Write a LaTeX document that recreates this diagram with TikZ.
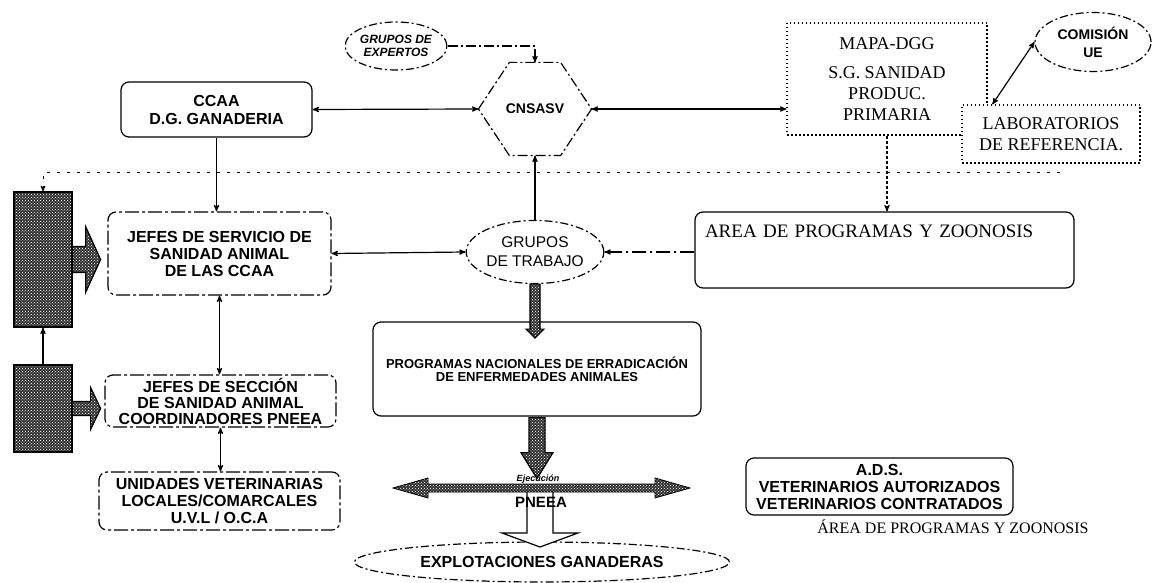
\documentclass[tikz,border=0pt]{standalone}
\usepackage{fontspec}
\setmainfont{Liberation Sans}
\newfontfamily\timesfont{Liberation Serif}
\usetikzlibrary{arrows,shapes.geometric,patterns,calc}

\begin{document}
\begin{tikzpicture}[x=1pt,y=-1pt,>=stealth',line width=1.2pt,
  box node/.style={draw,rounded corners=8pt,fill=white,align=center,inner sep=0pt,
    font=\fontsize{16}{17}\selectfont\bfseries},
  dash box/.style={box node,dash pattern=on 14pt off 3pt on 3pt off 3pt},
  dot box/.style={draw,fill=white,align=center,inner sep=0pt,dash pattern=on 1.5pt off 2.5pt,
    font=\timesfont\fontsize{18}{21}\selectfont},
  oval node/.style={draw,ellipse,fill=white,inner sep=0pt,align=center,
    dash pattern=on 8pt off 3pt on 2pt off 3pt},
  spk/.style={draw,preaction={fill=black!80},pattern=crosshatch dots,pattern color=white},
  sep line/.style={line width=1pt,dash pattern=on 3pt off 7pt}]
  \useasboundingbox (0,0) rectangle (1152,583);

  % top row
  \node[oval node,minimum width=86,minimum height=48,
    font=\fontsize{12}{13}\selectfont\bfseries\itshape] (expertos) at (396,46) {GRUPOS DE\\EXPERTOS};
  \node[box node,minimum width=191,minimum height=55,font=\fontsize{16}{18}\selectfont\bfseries]
    (ccaa) at (216.5,109.5) {CCAA\\D.G. GANADERIA};
  \node[inner sep=0pt,minimum width=112,minimum height=92,font=\fontsize{14}{14}\selectfont\bfseries]
    (cnsasv) at (535,109) {CNSASV};
  \draw[dash pattern=on 10pt off 3pt on 2pt off 3pt] (cnsasv.west) -- ([xshift=31pt]cnsasv.north west)
    -- ([xshift=-31pt]cnsasv.north east) -- (cnsasv.east) -- ([xshift=-31pt]cnsasv.south east)
    -- ([xshift=31pt]cnsasv.south west) -- cycle;
  \node[dot box,minimum width=200,minimum height=112] (mapa) at (887,79)
    {MAPA-DGG\\[8pt]S.G. SANIDAD\\PRODUC.\\PRIMARIA};
  \node[dot box,minimum width=178,minimum height=58] (lab) at (1051,134)
    {LABORATORIOS\\DE REFERENCIA.};
  \node[oval node,minimum width=116,minimum height=59,font=\fontsize{14}{18}\selectfont\bfseries]
    (comision) at (1093,42) {COMISIÓN\\UE};

  % middle row
  \node[spk,minimum width=58,minimum height=135,inner sep=0pt] (spk1) at (43,259.5) {};
  \node[spk,minimum width=58,minimum height=87,inner sep=0pt] (spk2) at (43,408.5) {};
  \node[dash box,minimum width=223,minimum height=83] (jefes) at (219.5,253.5)
    {JEFES DE SERVICIO DE\\SANIDAD ANIMAL\\DE LAS CCAA};
  \node[oval node,minimum width=125,minimum height=63,font=\fontsize{15.5}{19}\selectfont]
    (grupos) at (535,252) {GRUPOS\\DE TRABAJO};
  \node[box node,minimum width=379,text width=359,align=left,inner xsep=10pt,inner ysep=12pt,
    text height=13pt,text depth=39pt,font=\timesfont\fontsize{19}{19}\selectfont]
    (area) at (884.5,250) {AREA DE PROGRAMAS Y ZOONOSIS};

  % lower part
  \node[box node,minimum width=328,minimum height=94,font=\fontsize{13}{13}\selectfont\bfseries]
    (programas) at (537,369) {PROGRAMAS NACIONALES DE ERRADICACIÓN\\DE ENFERMEDADES ANIMALES};
  \node[dash box,minimum width=231,minimum height=52,font=\fontsize{16}{16}\selectfont\bfseries]
    (seccion) at (220.5,401) {JEFES DE SECCIÓN\\DE SANIDAD ANIMAL\\COORDINADORES PNEEA};
  \node[dash box,minimum width=241,minimum height=58] (unidades) at (219.5,501)
    {UNIDADES VETERINARIAS\\LOCALES/COMARCALES\\U.V.L / O.C.A};
  \node[box node,minimum width=267,minimum height=57] (ads) at (879.5,486.5)
    {A.D.S.\\VETERINARIOS AUTORIZADOS\\VETERINARIOS CONTRATADOS};
  \node[font=\timesfont\fontsize{16}{16}\selectfont] (areatxt) at (953,527)
    {ÁREA DE PROGRAMAS Y ZOONOSIS};
  \node[oval node,minimum width=375,minimum height=40,font=\fontsize{16}{16}\selectfont\bfseries]
    (explot) at (542,562) {EXPLOTACIONES GANADERAS};

  % fat arrows
  \path[spk] ($(spk1.east)+(0,-13)$) -- ++(13,0) -- ++(0,-20) -- ++(15,33) -- ++(-15,33)
    -- ++(0,-20) -- ++(-13,0) -- cycle;
  \path[spk] ($(spk2.east)+(0,-7)$) -- ++(18,0) -- ++(0,-14) -- ++(10,21) -- ++(-10,21)
    -- ++(0,-14) -- ++(-18,0) -- cycle;
  \path[spk] ($(grupos.south)+(-5,0)$) -- ++(10,0) -- ++(0,45) -- ++(4,0) -- ++(-9,9)
    -- ++(-9,-9) -- ++(4,0) -- cycle;
  \path[spk] ($(programas.south)+(-8,1)$) -- ++(16,0) -- ++(0,35) -- ++(8,0) -- ++(-16,26)
    -- ++(-16,-26) -- ++(8,0) -- cycle;
  \coordinate (ejl) at (393,488);
  \coordinate (ejr) at (690,488);
  \coordinate (ejbot) at (540,492);
  \draw[fill=white] ($(ejbot)+(-13,0)$) -- ++(0,41) -- ++(-25,0) -- ++(38,14) -- ++(38,-14)
    -- ++(-25,0) -- ++(0,-41);
  \path[spk,line width=0.8pt] (ejl) -- ++(35,-10) -- ++(0,6) -- ($(ejr)+(-35,-4)$) -- ++(0,-6)
    -- (ejr) -- ++(-35,10) -- ++(0,-6) -- ($(ejl)+(35,4)$) -- ++(0,6) -- cycle;
  \node[font=\fontsize{9}{9}\selectfont\bfseries\itshape] (ejec) at (538,479) {Ejecución};
  \node[font=\fontsize{15}{15}\selectfont\bfseries] (pneea) at (541,502) {PNEEA};

  % connectors
  \draw[->,dash pattern=on 10pt off 3pt on 2pt off 3pt] (expertos.east) -| (cnsasv.north);
  \draw[<->] (ccaa.east) -- (cnsasv.west);
  \draw[<->] (cnsasv.east) -- (cnsasv.east -| mapa.west);
  \draw[<->] (comision.west) -- ([xshift=31pt]lab.north west);
  \coordinate (sepend) at (1060,173);
  \draw[sep line,->] (sepend) -| (spk1.north);
  \draw[->] (ccaa.south) -- (ccaa.south |- jefes.north);
  \draw[<->] (jefes.east) -- (grupos.west);
  \draw[->] (grupos.north) -- (cnsasv.south);
  \draw[->,dash pattern=on 3pt off 2pt] (mapa.south) -- (mapa.south |- area.north);
  \draw[->,dash pattern=on 14pt off 4pt on 2pt off 4pt] (area.west |- grupos.east) -- (grupos.east);
  \draw[<->] (jefes.south) -- (jefes.south |- seccion.north);
  \draw[<->] (seccion.south) -- (seccion.south |- unidades.north);
  \draw[->] (spk2.north) -- (spk1.south);
\end{tikzpicture}
\end{document}
